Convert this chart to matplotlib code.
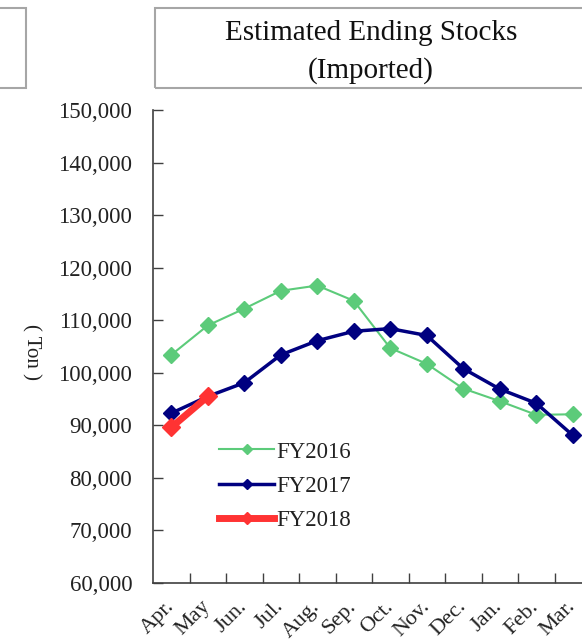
import matplotlib.pyplot as plt
from matplotlib.patches import Rectangle

plt.rcParams['font.family'] = ['Liberation Serif', 'DejaVu Serif']

months = ['Apr.', 'May', 'Jun.', 'Jul.', 'Aug.', 'Sep.', 'Oct.', 'Nov.', 'Dec.', 'Jan.', 'Feb.', 'Mar.']
fy2016 = [103400, 109000, 112200, 115600, 116600, 113700, 104700, 101700, 97000, 94600, 92000, 92100]
fy2017 = [92300, 95500, 98100, 103400, 106100, 107900, 108400, 107100, 100800, 96900, 94200, 88100]
fy2018 = [89600, 95500]

fig = plt.figure(figsize=(5.82, 6.44), dpi=100)

# axes reaches past the right edge, as in the cropped original
ax = fig.add_axes([153 / 582, 61 / 644, 438 / 582, 473 / 644])

x = list(range(len(months)))
ax.plot(x, fy2016, color='#5ccb7a', lw=1.5, marker='D', ms=8, label='FY2016')
ax.plot(x, fy2017, color='#000080', lw=2.5, marker='D', ms=8.5, label='FY2017')
ax.plot(x[:len(fy2018)], fy2018, color='#ff3333', lw=5, marker='D', ms=9, label='FY2018')

ax.set_xlim(-0.5, len(months) - 0.5)
ax.set_ylim(60000, 150000)
ax.set_yticks(range(60000, 150001, 10000))
ax.set_yticklabels([f'{v:,}' for v in range(60000, 150001, 10000)])

# ticks between the categories, labels on the categories
ax.set_xticks([i + 0.5 for i in x[:-1]])
ax.set_xticklabels([])
ax.set_xticks(x, minor=True)
ax.set_xticklabels(months, minor=True, rotation=45, ha='right', va='center',
                   rotation_mode='anchor')
ax.tick_params(axis='x', which='major', direction='in', length=7, width=1, color='#404040')
ax.tick_params(axis='x', which='minor', length=0, pad=15, labelsize=16, labelcolor='#222222')
ax.tick_params(axis='y', direction='in', length=7, width=1, color='#404040',
               pad=15, labelsize=16.5, labelcolor='#222222')

for s in ['top', 'right']:
    ax.spines[s].set_visible(False)
for s in ['left', 'bottom']:
    ax.spines[s].set_color('#404040')
    ax.spines[s].set_linewidth(1.2)

ax.legend(loc='upper left', bbox_to_anchor=(208 / 582, 1 - 430 / 644),
          bbox_transform=fig.transFigure, frameon=False, fontsize=16.5,
          handlelength=2.4, handletextpad=0.1, labelspacing=0.58,
          markerscale=0.65, borderpad=0, labelcolor='#222222')

fig.text(31 / 582, 1 - 352 / 644, '( Ton )', rotation=-90, fontsize=15,
         ha='center', va='center', color='#222222')

# title boxes
fig.patches.append(Rectangle((155 / 582, 1 - 88 / 644), 440 / 582, 80 / 644,
                             transform=fig.transFigure, fill=False,
                             edgecolor='#a6a6a6', lw=1.5))
fig.patches.append(Rectangle((-20 / 582, 1 - 88 / 644), 46 / 582, 80 / 644,
                             transform=fig.transFigure, fill=False,
                             edgecolor='#a6a6a6', lw=1.5))
fig.text(371 / 582, 1 - 33 / 644, 'Estimated Ending Stocks', fontsize=21,
         ha='center', va='center', color='#111111')
fig.text(371 / 582, 1 - 71 / 644, '(Imported)', fontsize=21,
         ha='center', va='center', color='#111111')

fig.savefig('out.png', dpi=100)
